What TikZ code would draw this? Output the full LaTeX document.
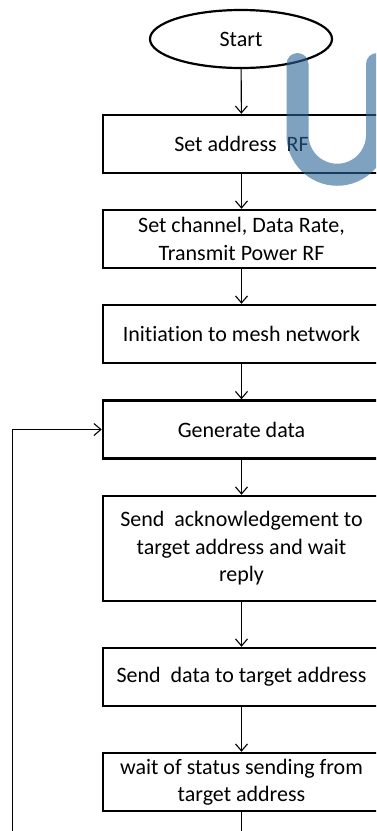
\documentclass[tikz,border=0pt]{standalone}
\usepackage{fontspec}
\setmainfont{Carlito}[RawFeature={-liga;-clig;-calt}]
\usetikzlibrary{shapes.geometric,arrows.meta}
\definecolor{markblue}{RGB}{40,100,150}
\tikzset{
  stepbox/.style={draw, line width=2.5pt, minimum width=277pt, minimum height=58pt,
    inner sep=0pt, align=center, font=\fontsize{22}{27.5}\selectfont},
  terminal/.style={draw, ellipse, line width=2.2pt, minimum width=182pt, minimum height=58pt,
    inner sep=0pt, font=\fontsize{22}{27.5}\selectfont},
  flow/.style={line width=1.1pt, -{Straight Barb[length=7pt,width=12pt,line width=1.1pt]}},
  plain/.style={line width=1.1pt}
}
\begin{document}
\begin{tikzpicture}[x=1pt,y=1pt]
\useasboundingbox (0,0) rectangle (376,-831);
\clip (0,0) rectangle (376,-831);

% flowchart steps
\node[terminal] (start) at (241,-39) {Start};
\node[stepbox] (addr) at (241.5,-144) {Set address~ RF};
\node[stepbox] (chan) at (241.5,-239) {Set channel, Data Rate,\\Transmit Power RF};
\node[stepbox] (mesh) at (241.5,-334) {Initiation to mesh network};
\node[stepbox] (gen) at (241.5,-429.5) {Generate data};
\node[stepbox, minimum height=105pt] (ack) at (241.5,-548.5)
  {Send~ acknowledgement to\\target address and wait\\reply};
\node[stepbox] (send) at (241.5,-677) {Send~ data to target address};
\node[stepbox] (wait) at (241.5,-782) {wait of status sending from\\target address};

% free ends running off the lower edge
\coordinate (tail) at (241.5,-850);
\coordinate (loopfoot) at (12.7,-850);

% connectors
\draw[flow] (start) -- (addr);
\draw[flow] (addr) -- (chan);
\draw[flow] (chan) -- (mesh);
\draw[flow] (mesh) -- (gen);
\draw[flow] (gen) -- (ack);
\draw[flow] (ack) -- (send);
\draw[flow] (send) -- (wait);
\draw[plain] (wait) -- (tail);
\draw[flow] (loopfoot) |- (gen.west);

% translucent "U" mark over the upper right
\draw[markblue, opacity=0.6, line width=22pt, line cap=round]
  (297.5,-64) -- (297.5,-135)
  arc[start angle=180, end angle=360, radius=39.75pt]
  -- (377,-64);
\end{tikzpicture}
\end{document}
